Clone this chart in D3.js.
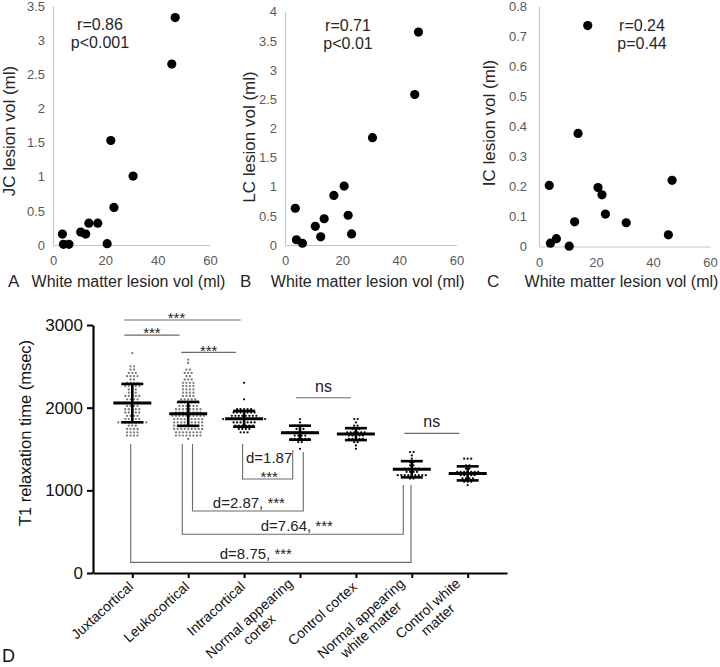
<!DOCTYPE html>
<html><head><meta charset="utf-8">
<script src="https://cdn.jsdelivr.net/npm/d3@7"></script>
<style>
body{margin:0;background:#fff;}
svg{display:block;font-family:"Liberation Sans", Arial, Helvetica, sans-serif;}
</style></head><body>
<svg id="chart" width="720" height="667"></svg>
<script>
// ---------- Panels A–C data ----------
const wmLesionVol = [3.6, 4.0, 6.1, 10.6, 12.5, 13.7, 17.1, 20.7, 22.1, 23.3, 30.6, 45.4, 46.7];
const jcLesionVol = [0.16, 0.01, 0.01, 0.19, 0.16, 0.32, 0.32, 0.02, 1.53, 0.55, 1.01, 2.65, 3.33];
const lcLesionVol = [0.63, 0.09, 0.03, 0.32, 0.14, 0.45, 0.85, 1.01, 0.51, 0.19, 1.84, 2.58, 3.65];
const icLesionVol = [0.203, 0.011, 0.026, 0.001, 0.082, 0.376, 0.735, 0.196, 0.172, 0.108, 0.079, 0.039, 0.22];
const scatterLetters = ["A", "B", "C"];
const scatterYTitles = ["JC lesion vol (ml)", "LC lesion vol (ml)", "IC lesion vol (ml)"];
const scatterXTitle = "White matter lesion vol (ml)";
const scatterStats = [["r=0.86", "p<0.001"], ["r=0.71", "p<0.01"], ["r=0.24", "p=0.44"]];
const scatterXTicks = [0, 20, 40, 60];
const yTicksA = [0, 0.5, 1, 1.5, 2, 2.5, 3, 3.5];
const yTicksB = [0, 0.5, 1, 1.5, 2, 2.5, 3, 3.5, 4];
const yTicksC = [0, 0.1, 0.2, 0.3, 0.4, 0.5, 0.6, 0.7, 0.8];

// ---------- Panel D data ----------
const categories = ["Juxtacortical", "Leukocortical", "Intracortical", "Normal appearing cortex",
  "Control cortex", "Normal appearing white matter", "Control white matter"];
const categoryLines = [["Juxtacortical"], ["Leukocortical"], ["Intracortical"], ["Normal appearing", "cortex"],
  ["Control cortex"], ["Normal appearing", "white matter"], ["Control white", "matter"]];
const t1Juxtacortical = [2665,
  2500,2490,2480,2470, 2440,2430,2420, 2400,2390,2380,2370,2360, 2330,2320,2310,2300,
  2290,2280,2275,2270,2260,2250, 2230,2220,2210,2200,2190, 2170,2160,2150,2145,2140,2130,
  2110,2100,2095,2090,2080,2070,2060, 2050,2045,2040,2030,2020,2010,
  2000,1995,1990,1980,1970,1960,1955, 1940,1930,1925,1920,1910,1900,
  1890,1880,1875,1870,1860,1850, 1840,1835,1830,1830,1825,1820,1815,1810,1805,
  1790,1780,1770,1760,1750, 1740,1730,1720,1710, 1700,1690,1680, 1670,1660,1650];
const t1Leukocortical = [2580, 2540, 2480,2470, 2440,2420,2410, 2380,2370,2360,2350,2340,
  2320,2310,2300,2290,2280,2270, 2260,2250,2240,2230,2220,2210,
  2200,2190,2180,2170,2160,2150,2140, 2130,2120,2110,2100,2095,2090,2080,
  2070,2065,2060,2055,2050,2045,2040,2030, 2020,2015,2010,2005,2000,1995,1990,1985,
  1980,1975,1970,1965,1960,1955,1950,1945,1940, 1935,1930,1925,1920,1918,1915,1910,1905,1900,
  1898,1895,1890,1885,1880,1875,1870,1865,1860, 1858,1855,1850,1845,1840,1835,1830,1825,1820,
  1818,1815,1810,1805,1800,1795,1790,1785,1780, 1778,1775,1770,1765,1760,1755,1750,1745,1740,
  1738,1735,1730,1725,1720,1715,1710,1705, 1700,1695,1690,1685,1680,1675,
  1670,1665,1660,1655,1650, 1645,1640];
const t1Intracortical = [2310, 2100, 2000,1990,1985,1980, 1970,1960,1955,1950,1945,
  1940,1930,1925,1920,1915,1910, 1905,1900,1895,1890,1885,1880,1878,1875,
  1870,1868,1865,1862,1860,1858,1855,1850,1848,1845, 1840,1835,1830,1825,1820,1815,1810,
  1800,1795,1790,1785,1780, 1770,1760,1750,1745, 1735,1720,1710, 1695];
const t1NACortex = [1850,1835,1800,1790,1780,1775,1760,1745,1730,1720,1712,1705,1700,1698,1695,
  1690,1685,1680,1670,1660,1650,1640,1630,1625,1620,1615,1610,1600,1590,1490];
const t1ControlCortex = [1860,1850,1830,1790,1770,1750,1745,1735,1720,1710,1700,1695,1690,1685,
  1680,1675,1670,1660,1650,1640,1630,1625,1620,1610,1600,1580,1560,1510];
const t1NAWM = [1470,1450,1430,1400,1350,1330,1310,1290,1280,1270,1260,1255,1250,1240,1230,
  1220,1210,1200,1190,1185,1180,1178,1175,1172,1170,1165,1150,1140];
const t1ControlWM = [1395,1390,1385,1300,1290,1280,1260,1240,1230,1225,1220,1215,1210,1205,
  1200,1195,1190,1180,1170,1160,1150,1140,1130,1120,1110,1100,1050];
const t1Means = [2055, 1925, 1865, 1697, 1680, 1255, 1205];
const t1SD = [232, 145, 95, 85, 72, 98, 85];
const yTicksD = [0, 1000, 2000, 3000];
const topPairs = [[0, 2], [0, 1], [1, 2], [3, 4], [5, 6]];
const topLabels = ["***", "***", "***", "ns", "ns"];
const topLevels = [3060, 2878, 2669, 2120, 1689];
const effectPairs = [[2, 3], [1, 3], [1, 5], [0, 5]];
const effectLabels = [["d=1.87", "***"], ["d=2.87, ***"], ["d=7.64, ***"], ["d=8.75, ***"]];
const effectLevels = [1137, 750, 468, 129];

// ---------- layout ----------
const svg = d3.select("#chart");
const txt = "#262626";

const scatterLayout = [
  {x0: 53, x1: 210, yTop: 6, yBot: 245, pad: 8, ticks: yTicksA, ymax: 3.5, ytx: 15, yty: 131, lx: 8, sx: 100, yr: 30},
  {x0: 285, x1: 456.5, yTop: 11.7, yBot: 245, pad: 8, ticks: yTicksB, ymax: 4, ytx: 255, yty: 137, lx: 240, sx: 348, yr: 31},
  {x0: 539, x1: 710, yTop: 6, yBot: 246.5, pad: 12, ticks: yTicksC, ymax: 0.8, ytx: 495, yty: 123, lx: 487, sx: 642, yr: 31}
];
const scatterValues = [jcLesionVol, lcLesionVol, icLesionVol];
const fmt = d => String(+d.toFixed(2));

scatterLayout.forEach((L, i) => {
  const x = d3.scaleLinear([0, 60], [L.x0, L.x1]);
  const y = d3.scaleLinear([0, L.ymax], [L.yBot, L.yTop]);
  const g = svg.append("g");
  const xa = g.append("g").attr("transform", `translate(0,${L.yBot})`)
    .call(d3.axisBottom(x).tickValues(scatterXTicks).tickSize(0).tickSizeOuter(0).tickPadding(11).tickFormat(fmt));
  const ya = g.append("g").attr("transform", `translate(${L.x0},0)`)
    .call(d3.axisLeft(y).tickValues(L.ticks).tickSize(0).tickSizeOuter(0).tickPadding(L.pad).tickFormat(fmt));
  [xa, ya].forEach(a => {
    a.select(".domain").attr("stroke", "#c6c6c6").attr("stroke-width", 1.2);
    a.selectAll("text").attr("fill", "#595959").style("font-size", "13px").style("font-family", null);
  });
  g.selectAll("circle").data(wmLesionVol).join("circle")
    .attr("cx", d => x(d)).attr("cy", (d, j) => y(scatterValues[i][j])).attr("r", 4.6).attr("fill", "#000");
  g.append("text").attr("x", (L.x0 + L.x1) / 2 - 3).attr("y", 287).attr("text-anchor", "middle")
    .attr("fill", txt).style("font-size", "16px").text(scatterXTitle);
  g.append("text").attr("x", L.lx).attr("y", 287).attr("fill", txt).style("font-size", "17px").text(scatterLetters[i]);
  g.append("text").attr("transform", `translate(${L.ytx},${L.yty}) rotate(-90)`).attr("text-anchor", "middle")
    .attr("fill", txt).style("font-size", "17px").text(scatterYTitles[i]);
  scatterStats[i].forEach((s, k) => {
    g.append("text").attr("x", L.sx).attr("y", L.yr + k * 18).attr("text-anchor", "middle")
      .attr("fill", txt).style("font-size", "16px").text(s);
  });
});

// ---------- Panel D ----------
const groups = [t1Juxtacortical, t1Leukocortical, t1Intracortical, t1NACortex, t1ControlCortex, t1NAWM, t1ControlWM];
const yD = d3.scaleLinear([0, 3000], [573, 325]);
const xD = d3.scalePoint(categories, [93, 507]).padding(0.703);
const gD = svg.append("g");

// dots (row-binned scatter)
const rowH = 3.3, dotDx = 3.5;
groups.forEach((vals, gi) => {
  const cx = xD(categories[gi]);
  const rows = d3.groups(vals, v => Math.round(yD(v) / rowH));
  rows.forEach(([r, vs]) => {
    vs.forEach((v, k) => {
      gD.append("circle")
        .attr("cx", cx + (k - (vs.length - 1) / 2) * dotDx)
        .attr("cy", r * rowH)
        .attr("r", 1.15)
        .attr("fill", gi < 2 ? "#7a7a7a" : "#111");
    });
  });
});

// mean & SD
categories.forEach((c, gi) => {
  const cx = xD(c), m = t1Means[gi], s = t1SD[gi];
  gD.append("line").attr("x1", cx).attr("x2", cx).attr("y1", yD(m - s)).attr("y2", yD(m + s))
    .attr("stroke", "#000").attr("stroke-width", 2.6);
  [m - s, m + s].forEach(v => gD.append("line").attr("x1", cx - 11).attr("x2", cx + 11)
    .attr("y1", yD(v)).attr("y2", yD(v)).attr("stroke", "#000").attr("stroke-width", 2.6));
  gD.append("line").attr("x1", cx - 19).attr("x2", cx + 19).attr("y1", yD(m)).attr("y2", yD(m))
    .attr("stroke", "#000").attr("stroke-width", 3);
});

// axes
const yAxD = gD.append("g").attr("transform", "translate(93,0)")
  .call(d3.axisLeft(yD).tickValues(yTicksD).tickSize(6).tickSizeOuter(0).tickPadding(4).tickFormat(d3.format("d")));
const xAxD = gD.append("g").attr("transform", "translate(0,573)")
  .call(d3.axisBottom(xD).tickSize(5).tickSizeOuter(0).tickFormat(""));
[yAxD, xAxD].forEach(a => {
  a.select(".domain").attr("stroke", "#000").attr("stroke-width", 2.2);
  a.selectAll(".tick line").attr("stroke", "#000").attr("stroke-width", 2);
});
yAxD.selectAll("text").attr("fill", "#111").style("font-size", "17px").style("font-family", null);

// category labels
categories.forEach((c, gi) => {
  const lines = categoryLines[gi];
  const multi = lines.length > 1;
  const t = gD.append("g").attr("transform", `translate(${xD(c) + 2},588) rotate(-42)`);
  const first = t.append("text").attr("x", multi ? -4 : 0).attr("y", multi ? -8 : 0)
    .attr("text-anchor", "end").attr("fill", "#111")
    .style("font-size", "14px").text(lines[0]);
  if (multi) {
    const w = first.node().getComputedTextLength();
    t.append("text").attr("x", -4 - w / 2).attr("y", 7).attr("text-anchor", "middle").attr("fill", "#111")
      .style("font-size", "14px").text(lines[1]);
  }
});

// y title
gD.append("text").attr("transform", "translate(31,433) rotate(-90)").attr("text-anchor", "middle")
  .attr("fill", "#111").style("font-size", "16.5px").text("T1 relaxation time (msec)");
gD.append("text").attr("x", 2).attr("y", 662).attr("fill", "#111").style("font-size", "18px").text("D");

// top comparisons
const topOffsets = [[-8, -3.4], [-8, -8.7], [-7, -8], [-4, -5], [-7.5, -8.4]];
topPairs.forEach(([a, b], k) => {
  const x1 = xD(categories[a]) + topOffsets[k][0], x2 = xD(categories[b]) + topOffsets[k][1];
  const yy = yD(topLevels[k]);
  gD.append("line").attr("x1", x1).attr("x2", x2).attr("y1", yy).attr("y2", yy)
    .attr("stroke", "#6a6a6a").attr("stroke-width", 1.1);
  const isStar = topLabels[k] === "***";
  gD.append("text").attr("x", (x1 + x2) / 2 - (k === 0 ? 6 : 0)).attr("y", isStar ? yy + 3.2 : yy - 6)
    .attr("text-anchor", "middle").attr("fill", "#222").style("font-size", isStar ? "15px" : "16px")
    .text(topLabels[k]);
});

// effect-size brackets
const effectLayout = [
  {offA: -1.5, offB: -7.3, topA: 1560, topB: 1487, dx: 1.5},
  {offA: 4.3, offB: 3.3, topA: 1560, topB: 1463, dx: 1},
  {offA: -5.9, offB: -8.5, topA: 1560, topB: 1064, dx: 4},
  {offA: -1.6, offB: -0.8, topA: 1560, topB: 1064, dx: -15}
];
effectPairs.forEach(([a, b], k) => {
  const L = effectLayout[k];
  const x1 = xD(categories[a]) + L.offA, x2 = xD(categories[b]) + L.offB;
  const yy = yD(effectLevels[k]);
  gD.append("path")
    .attr("d", `M${x1},${yD(L.topA)}V${yy}H${x2}V${yD(L.topB)}`)
    .attr("fill", "none").attr("stroke", "#6a6a6a").attr("stroke-width", 1.1);
  const lab = effectLabels[k];
  const cx = (x1 + x2) / 2 + L.dx;
  if (lab.length === 2) {
    gD.append("text").attr("x", cx).attr("y", yy - 16).attr("text-anchor", "middle")
      .attr("fill", "#222").style("font-size", "15px").text(lab[0]);
    gD.append("text").attr("x", cx).attr("y", yy + 2.5).attr("text-anchor", "middle")
      .attr("fill", "#222").style("font-size", "15px").text(lab[1]);
  } else {
    gD.append("text").attr("x", cx).attr("y", yy - 3).attr("text-anchor", "middle")
      .attr("fill", "#222").style("font-size", "15px").text(lab[0]);
  }
});
</script>
</body></html>
